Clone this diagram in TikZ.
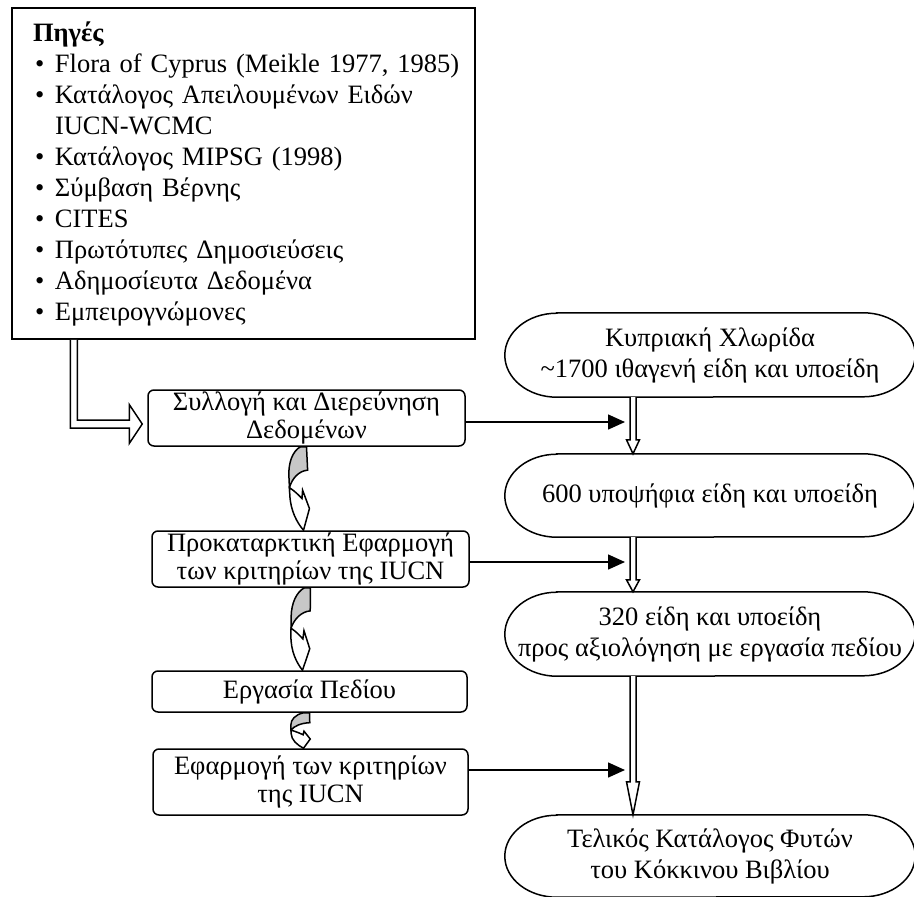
\documentclass[tikz,border=0pt]{standalone}
\usepackage{fontspec}
\setmainfont{Liberation Serif}
\usetikzlibrary{arrows.meta,calc,positioning}

\newcommand\srcitem{\makebox[22pt][l]{\hspace{2pt}\textbullet}}
\newcommand\ovalframe[2]{\draw[line width=1.5pt] ([xshift=52pt]#1.north west) -- ([xshift=-52pt]#1.north east)
    arc[start angle=90,end angle=-90,x radius=52pt,y radius=#2pt] -- ([xshift=52pt]#1.south west)
    arc[start angle=270,end angle=90,x radius=52pt,y radius=#2pt] -- cycle;}
\newcommand\hollowdown[3]{\draw[hollow] ($(#1 -| col)+(-3,0)$) -- ($(#2 -| col)+(-3,#3)$) -- ($(#2 -| col)+(-6.5,#3)$)
    -- (#2 -| col) -- ($(#2 -| col)+(6.5,#3)$) -- ($(#2 -| col)+(3,#3)$) -- ($(#1 -| col)+(3,0)$);}
\newcommand\bendarrow[2]{%
  \def\arrtop{#1}\def\arrbot{#2}%
  \draw[bendback] ($(\arrtop)+(-6,0)$) -- (\arrtop) -- ($(\arrtop)!0.28!(\arrbot)$)
    .. controls ($(\arrtop)!0.29!(\arrbot)+(-9,0)$) and ($(\arrtop)!0.38!(\arrbot)+(-16,0)$) .. ($(\arrtop)!0.49!(\arrbot)+(-19,0)$)
    -- ($(\arrtop)!0.35!(\arrbot)+(-19,0)$)
    .. controls ($(\arrtop)!0.19!(\arrbot)+(-19,0)$) and ($(\arrtop)!0.05!(\arrbot)+(-14,0)$) .. ($(\arrtop)+(-6,0)$) -- cycle;
  \draw[bendfront] ($(\arrtop)!0.49!(\arrbot)+(-19,0)$)
    .. controls ($(\arrtop)!0.53!(\arrbot)+(-14,0)$) and ($(\arrtop)!0.58!(\arrbot)+(-10,0)$) .. ($(\arrtop)!0.62!(\arrbot)+(-7,0)$)
    -- ($(\arrtop)!0.52!(\arrbot)+(-6,0)$) -- ($(\arrtop)!0.74!(\arrbot)$) -- ($(\arrbot)+(-7,0)$)
    .. controls ($(\arrtop)!0.91!(\arrbot)+(-13,0)$) and ($(\arrtop)!0.77!(\arrbot)+(-19,0)$) .. ($(\arrtop)!0.58!(\arrbot)+(-19,0)$) -- cycle;
}

\tikzset{
    every node/.style={font=\fontsize{26.5}{31}\selectfont},
    srcbox/.style={draw, line width=1.5pt, align=left, inner xsep=21pt, inner ysep=0pt},
    stepbox/.style={draw, rounded corners=6pt, line width=1.5pt, align=center, inner sep=0pt,
        font=\fontsize{26.5}{28}\selectfont},
    oval/.style={align=center, minimum width=410pt, inner sep=0pt},
    feed/.style={line width=1.5pt, -{Triangle[length=17pt,width=15pt]}},
    hollow/.style={draw, fill=white, line width=1.5pt},
    bendback/.style={draw, fill=black!22, line width=1.5pt},
    bendfront/.style={draw, fill=white, line width=1.5pt}
}

\begin{document}
\begin{tikzpicture}[x=1pt,y=1pt]
    \useasboundingbox (0,0) rectangle (914,-897);

    \node[srcbox, text width=421pt, minimum height=331pt] (src) at (243.5,-173.5) {\textbf{Πηγές}\\
        \mbox{\srcitem Flora of Cyprus (Meikle 1977, 1985)}\\
        \srcitem Κατάλογος Απειλουμένων Ειδών\\
        \hspace*{22pt}IUCN-WCMC\\
        \srcitem Κατάλογος MIPSG (1998)\\
        \srcitem Σύμβαση Βέρνης\\
        \srcitem CITES\\
        \srcitem Πρωτότυπες Δημοσιεύσεις\\
        \srcitem Αδημοσίευτα Δεδομένα\\
        \srcitem Εμπειρογνώμονες};

    \node[stepbox, minimum width=317pt, minimum height=56pt] (collect) at (306.5,-418) {Συλλογή και Διερεύνηση\\Δεδομένων};
    \node[stepbox, minimum width=317pt, minimum height=56pt] (prelim) at (310.5,-559) {Προκαταρκτική Εφαρμογή\\των κριτηρίων της IUCN};
    \node[stepbox, minimum width=315pt, minimum height=41pt] (field) at (309.5,-691.5) {Εργασία Πεδίου};
    \node[stepbox, minimum width=315pt, minimum height=66pt] (apply) at (310.5,-782) {Εφαρμογή των κριτηρίων\\της IUCN};

    \node[oval, minimum height=84pt] (flora) at (710,-355) {Κυπριακή Χλωρίδα\\\textasciitilde1700 ιθαγενή είδη και υποείδη};
    \node[oval, minimum height=83pt] (cand) at (710,-495.5) {600 υποψήφια είδη και υποείδη};
    \node[oval, minimum height=84pt] (eval) at (710,-634) {320 είδη και υποείδη\\προς αξιολόγηση με εργασία πεδίου};
    \node[oval, minimum height=82pt] (final) at (710,-856) {Τελικός Κατάλογος Φυτών\\του Κόκκινου Βιβλίου};
    \ovalframe{flora}{42}
    \ovalframe{cand}{41.5}
    \ovalframe{eval}{42}
    \ovalframe{final}{41}

    % column of the open arrows on the right
    \coordinate (col) at (633,0);
    \hollowdown{flora.south}{cand.north}{14}
    \hollowdown{cand.south}{eval.north}{12}
    \hollowdown{eval.south}{final.north}{33}

    \draw[feed] ([yshift=-4pt]collect.east) -- ([yshift=-4pt,xshift=-8pt]collect.east -| col);
    \draw[feed] ([yshift=-3pt]prelim.east) -- ([yshift=-3pt,xshift=-8pt]prelim.east -| col);
    \draw[feed] ([yshift=12pt]apply.east) -- ([yshift=12pt,xshift=-8pt]apply.east -| col);

    % sources into the first step
    \coordinate (srcout) at ([xshift=62.5pt]src.south west);
    \coordinate (tip) at ([shift={(-5,-6)}]collect.west);
    \draw[hollow] ($(srcout)+(-3.5,0)$) -- ($(srcout |- tip)+(-3.5,-4)$) -- ($(tip)+(-13,-4)$) -- ($(tip)+(-13,-19.5)$)
        -- (tip) -- ($(tip)+(-13,19.5)$) -- ($(tip)+(-13,4)$) -- ($(srcout |- tip)+(3.5,4)$) -- ($(srcout)+(3.5,0)$);

    \bendarrow{collect.south}{prelim.north}
    \bendarrow{prelim.south}{field.north}
    \bendarrow{field.south}{apply.north}
\end{tikzpicture}
\end{document}
